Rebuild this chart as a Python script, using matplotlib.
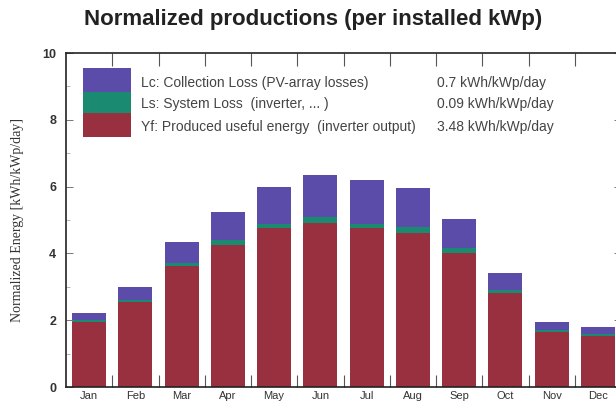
import matplotlib
matplotlib.use("Agg")
import matplotlib.pyplot as plt
from matplotlib.patches import Rectangle
from matplotlib.ticker import MultipleLocator, FixedLocator
import numpy as np

months = ["Jan", "Feb", "Mar", "Apr", "May", "Jun", "Jul", "Aug", "Sep", "Oct", "Nov", "Dec"]
yf = [1.95, 2.55, 3.62, 4.25, 4.75, 4.92, 4.75, 4.62, 4.00, 2.82, 1.65, 1.52]
ls = [0.05, 0.05, 0.10, 0.15, 0.13, 0.16, 0.13, 0.16, 0.17, 0.08, 0.07, 0.08]
lc = [0.23, 0.38, 0.63, 0.85, 1.12, 1.27, 1.32, 1.19, 0.86, 0.50, 0.23, 0.20]

legend_labels = ["Lc: Collection Loss (PV-array losses)",
                 "Ls: System Loss  (inverter, ... )",
                 "Yf: Produced useful energy  (inverter output)"]
legend_values = ["0.7 kWh/kWp/day", "0.09 kWh/kWp/day", "3.48 kWh/kWp/day"]

c_lc = "#5a4ca8"
c_ls = "#1a8a70"
c_yf = "#98303f"

W, H = 616, 407
fig = plt.figure(figsize=(W / 100, H / 100), dpi=100)
ax = fig.add_axes([66 / W, 20 / H, 555 / W, 334 / H])

x = np.arange(len(months))
yf_a = np.array(yf)
ls_a = np.array(ls)
lc_a = np.array(lc)
bw = 0.73
ax.bar(x, yf_a, bw, color=c_yf, linewidth=0)
ax.bar(x, ls_a, bw, bottom=yf_a, color=c_ls, linewidth=0)
ax.bar(x, lc_a, bw, bottom=yf_a + ls_a, color=c_lc, linewidth=0)

ax.set_xlim(-0.5, 11.5)
ax.set_ylim(0, 10)

ax.set_xticks(x)
ax.set_xticklabels(months, fontsize=8, family="Liberation Sans", color="#333333")
ax.xaxis.set_minor_locator(FixedLocator(np.arange(0.5, 11.5, 1.0)))
ax.tick_params(axis="x", which="major", length=0, pad=3)
ax.tick_params(axis="x", which="minor", direction="in", length=9, width=0.8,
               top=True, bottom=True, color="#555555")

ax.yaxis.set_major_locator(MultipleLocator(2))
ax.yaxis.set_minor_locator(MultipleLocator(1))
ax.tick_params(axis="y", which="major", direction="in", length=5, width=0.7,
               left=True, right=True, color="#777777", labelsize=9, pad=7)
ax.tick_params(axis="y", which="minor", direction="in", length=3, width=0.6,
               left=True, right=True, color="#aaaaaa")
for lab in ax.get_yticklabels():
    lab.set_fontweight("bold")
    lab.set_family("Liberation Sans")
    lab.set_color("#333333")

for s in ax.spines.values():
    s.set_linewidth(1.2)
    s.set_color("#222222")

ax.set_ylabel("Normalized Energy [kWh/kWp/day]", family="Liberation Serif",
              fontsize=10, color="#333333", labelpad=13)

fig.text(313 / W, 1 - 20 / H, "Normalized productions (per installed kWp)",
         ha="center", va="center", fontsize=16, fontweight="bold",
         family="Liberation Sans", color="#222222")

# legend box
px0, px1 = 83, 131
segs = [(68, 92, c_lc), (92, 113, c_ls), (113, 137, c_yf)]
for top, bot, col in segs:
    fig.patches.append(Rectangle((px0 / W, 1 - bot / H), (px1 - px0) / W, (bot - top) / H,
                                 transform=fig.transFigure, color=col, linewidth=0))
rows = [83, 104, 127]
for ry, lab, val in zip(rows, legend_labels, legend_values):
    fig.text(141 / W, 1 - ry / H, lab, ha="left", va="center", fontsize=10,
             family="Liberation Sans", color="#444444")
    fig.text(437 / W, 1 - ry / H, val, ha="left", va="center", fontsize=10,
             family="Liberation Sans", color="#444444")

fig.savefig("out.png", dpi=100)
